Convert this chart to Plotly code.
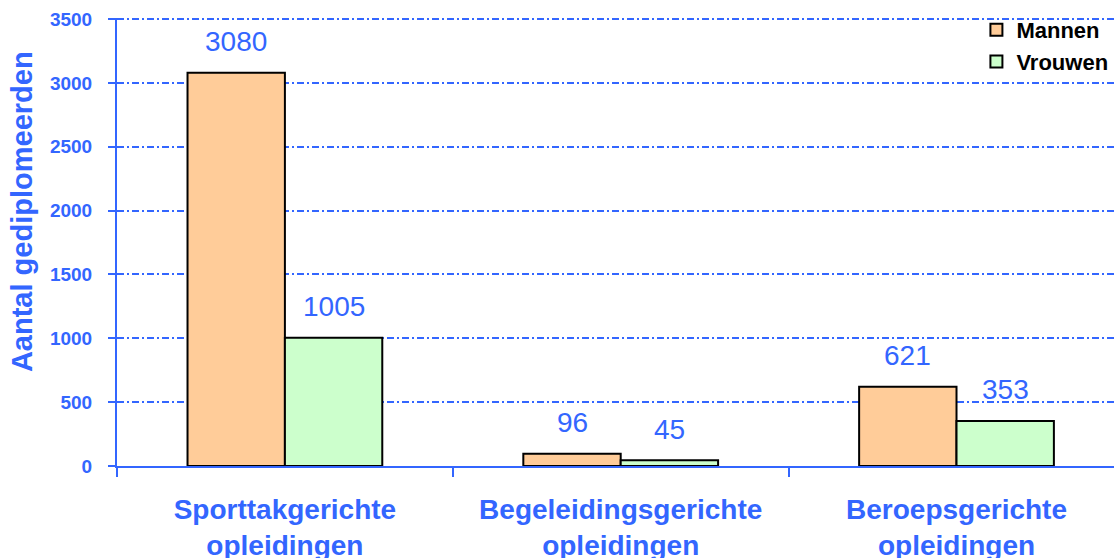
import plotly.graph_objects as go

categories = ["Sporttakgerichte<br>opleidingen", "Begeleidingsgerichte<br>opleidingen", "Beroepsgerichte<br>opleidingen"]
mannen = [3080, 96, 621]
vrouwen = [1005, 45, 353]
series_names = ["Mannen", "Vrouwen"]
y_ticks = [0, 500, 1000, 1500, 2000, 2500, 3000, 3500]

BLUE = "#3366FF"
ORANGE = "#FFCC99"
GREEN = "#CCFFCC"

fig = go.Figure()
fig.add_trace(go.Bar(name=series_names[0], x=categories, y=mannen,
                     marker=dict(color=ORANGE, line=dict(color="black", width=2))))
fig.add_trace(go.Bar(name=series_names[1], x=categories, y=vrouwen,
                     marker=dict(color=GREEN, line=dict(color="black", width=2))))

bargap = 0.42
half = (1 - bargap) / 4
annotations = []
for i, (m, v) in enumerate(zip(mannen, vrouwen)):
    for off, val in ((-half, m), (half, v)):
        annotations.append(dict(x=i + off, y=val, xref="x", yref="y", text=str(val),
                                showarrow=False, yanchor="middle", yshift=31,
                                font=dict(family="Arial", size=28, color=BLUE)))

annotations.append(dict(text="<b>Aantal gediplomeerden</b>", textangle=-90,
                        xref="paper", yref="paper", x=-0.0953, y=0.569,
                        xanchor="center", yanchor="middle", showarrow=False,
                        font=dict(family="Arial", size=29, color=BLUE)))

fig.update_layout(
    width=1114, height=558,
    margin=dict(l=117, r=0, t=18, b=92, autoexpand=False),
    paper_bgcolor="white", plot_bgcolor="white",
    barmode="group", bargap=bargap, bargroupgap=0,
    showlegend=True,
    legend=dict(x=0.862, y=1.02, xanchor="left", yanchor="top",
                bgcolor="rgba(0,0,0,0)", itemwidth=30, tracegroupgap=0,
                font=dict(family="Arial", size=22, color="black", weight="bold")),
    annotations=annotations,
)

fig.update_xaxes(
    range=[-0.5, 2.469], tickson="boundaries", ticks="outside", ticklen=9,
    tickwidth=2, tickcolor=BLUE, showline=True, linecolor=BLUE, linewidth=2,
    showgrid=False, automargin=False, ticklabelstandoff=17,
    tickfont=dict(family="Arial", size=28, color=BLUE, weight="bold"),
)
fig.update_yaxes(
    range=[0, 3508], tickvals=y_ticks, ticks="outside", ticklen=7, tickwidth=2,
    tickcolor=BLUE, showline=True, linecolor=BLUE, linewidth=2,
    showgrid=True, gridcolor=BLUE, gridwidth=1.5, griddash="7px,3px,2px,3px",
    zeroline=False, automargin=False, ticklabelstandoff=12,
    tickfont=dict(family="Arial", size=19, color=BLUE, weight="bold"),
)

fig.write_html("out.html", config={"displayModeBar": False},
               post_script="document.body.style.margin='0';document.body.style.overflow='hidden';")
